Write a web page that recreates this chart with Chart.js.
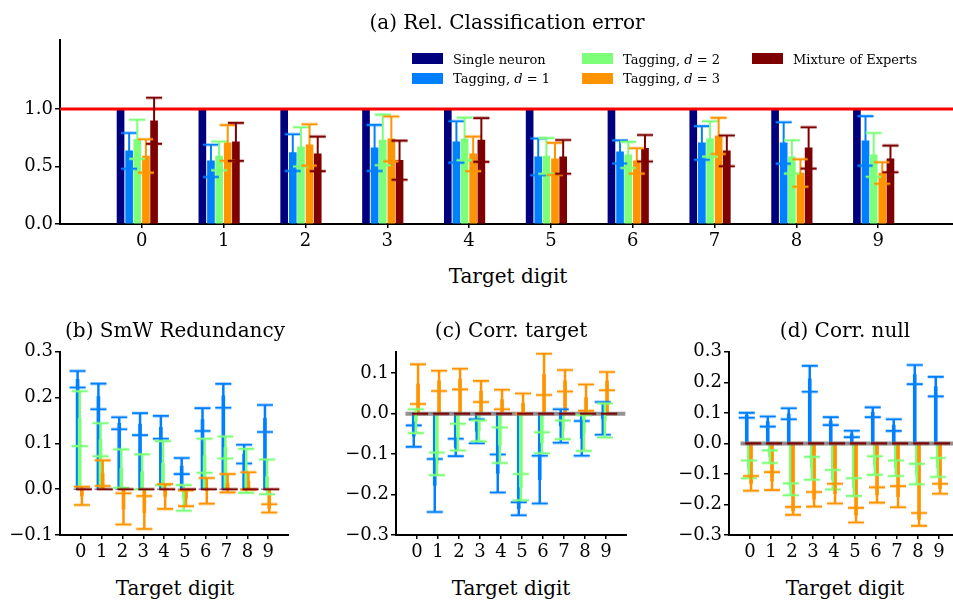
<!DOCTYPE html>
<html>
<head>
<meta charset="utf-8">
<script src="https://cdn.jsdelivr.net/npm/chart.js@4.4.1/dist/chart.umd.min.js"></script>
<style>
  html, body { margin: 0; padding: 0; background: #fff; }
  body { width: 953px; height: 606px; overflow: hidden; position: relative; font-family: 'DejaVu Serif', serif; color: #000; }
  .box { position: absolute; }
  .lbl { position: absolute; white-space: nowrap; transform: translate(-50%, -50%); font-size: 20px; line-height: 1; }
  .sw { position: absolute; width: 31px; height: 11px; }
  .lt { position: absolute; white-space: nowrap; font-size: 13px; line-height: 1; transform: translateY(-50%); }
</style>
</head>
<body>
<div class="box" id="boxA" style="left:0;top:27px;width:960px;height:229px"><canvas id="chartA"></canvas></div>
<div class="box" id="boxB" style="left:0;top:339px;width:289px;height:228px"><canvas id="chartB"></canvas></div>
<div class="box" id="boxC" style="left:336px;top:339px;width:291px;height:228px"><canvas id="chartC"></canvas></div>
<div class="box" id="boxD" style="left:669px;top:339px;width:291px;height:228px"><canvas id="chartD"></canvas></div>

<div class="lbl" style="left:507px;top:22px">(a) Rel. Classification error</div>
<div class="lbl" style="left:508px;top:276px">Target digit</div>
<div class="lbl" style="left:175px;top:330px">(b) SmW Redundancy</div>
<div class="lbl" style="left:511px;top:330px">(c) Corr. target</div>
<div class="lbl" style="left:845px;top:330px">(d) Corr. null</div>
<div class="lbl" style="left:175px;top:588px">Target digit</div>
<div class="lbl" style="left:511px;top:588px">Target digit</div>
<div class="lbl" style="left:845px;top:588px">Target digit</div>
<div id="legend"></div>

<script>
// categories
const digits = [0, 1, 2, 3, 4, 5, 6, 7, 8, 9];
const seriesNames = ['Single neuron', 'Tagging, d = 1', 'Tagging, d = 2', 'Tagging, d = 3', 'Mixture of Experts'];

// (a) relative classification error, mean and error
const relErrSingle = [1, 1, 1, 1, 1, 1, 1, 1, 1, 1];
const relErrTag1 = [0.635, 0.548, 0.62, 0.661, 0.713, 0.583, 0.626, 0.704, 0.704, 0.722];
const relErrTag1Err = [0.155, 0.14, 0.16, 0.2, 0.18, 0.16, 0.10, 0.146, 0.18, 0.215];
const relErrTag2 = [0.736, 0.591, 0.67, 0.73, 0.739, 0.591, 0.6, 0.739, 0.583, 0.6];
const relErrTag2Err = [0.17, 0.125, 0.17, 0.22, 0.185, 0.155, 0.113, 0.154, 0.145, 0.19];
const relErrTag3 = [0.591, 0.704, 0.687, 0.739, 0.609, 0.565, 0.548, 0.765, 0.443, 0.443];
const relErrTag3Err = [0.145, 0.155, 0.18, 0.195, 0.15, 0.14, 0.11, 0.157, 0.12, 0.094];
const relErrMoE = [0.896, 0.713, 0.609, 0.554, 0.73, 0.583, 0.658, 0.635, 0.661, 0.565];
const relErrMoEErr = [0.2, 0.165, 0.15, 0.17, 0.19, 0.146, 0.115, 0.134, 0.18, 0.116];
const refLevel = 1.0;

// (b) SmW redundancy
const zeros = [0, 0, 0, 0, 0, 0, 0, 0, 0, 0];
const redTag1 = [0.24, 0.2025, 0.144, 0.142, 0.135, 0.0505, 0.152, 0.204, 0.0765, 0.1545];
const redTag1Err = [0.018, 0.028, 0.013, 0.024, 0.025, 0.0175, 0.025, 0.026, 0.0205, 0.0295];
const redTag2 = [0.154, 0.108, 0.045, 0.038, 0.057, -0.019, 0.073, 0.091, 0.04, 0.027];
const redTag2Err = [0.06, 0.036, 0.042, 0.038, 0.048, 0.028, 0.037, 0.024, 0.048, 0.038];
const redTag3 = [-0.0145, 0.035, -0.043, -0.051, -0.016, -0.02, -0.0035, 0.013, 0.018, -0.042];
const redTag3Err = [0.02, 0.028, 0.034, 0.036, 0.027, 0.017, 0.028, 0.02, 0.019, 0.009];

// (c) correlation with target
const ctTag1 = [-0.0555, -0.1775, -0.0835, -0.0435, -0.148, -0.235, -0.163, -0.0305, -0.061, -0.0115];
const ctTag1Err = [0.0265, 0.0655, 0.0215, 0.0295, 0.047, 0.016, 0.059, 0.0415, 0.043, 0.0405];
const ctTag2 = [-0.0185, -0.124, -0.058, -0.0425, -0.078, -0.1815, -0.072, -0.04, -0.048, -0.017];
const ctTag2Err = [0.0295, 0.028, 0.033, 0.0255, 0.044, 0.0325, 0.026, 0.023, 0.044, 0.042];
const ctTag3 = [0.073, 0.081, 0.0855, 0.055, 0.035, 0.025, 0.097, 0.0815, 0.0395, 0.0805];
const ctTag3Err = [0.049, 0.025, 0.0255, 0.026, 0.024, 0.025, 0.051, 0.0265, 0.0325, 0.0225];

// (d) correlation with null
const cnTag1 = [0.092, 0.0715, 0.097, 0.2115, 0.073, 0.031, 0.102, 0.06, 0.2255, 0.186];
const cnTag1Err = [0.008, 0.0165, 0.018, 0.0425, 0.013, 0.0105, 0.016, 0.019, 0.0315, 0.032];
const cnTag2 = [-0.085, -0.0435, -0.1505, -0.0815, -0.119, -0.143, -0.0725, -0.0815, -0.1005, -0.079];
const cnTag2Err = [0.029, 0.0205, 0.0195, 0.0375, 0.032, 0.029, 0.0305, 0.0255, 0.0335, 0.031];
const cnTag3 = [-0.131, -0.1235, -0.221, -0.183, -0.1645, -0.235, -0.169, -0.1745, -0.249, -0.1485];
const cnTag3Err = [0.024, 0.0295, 0.013, 0.024, 0.0325, 0.024, 0.025, 0.0345, 0.021, 0.0165];

// tick labels
const ticksA = [0, 0.5, 1.0];
const ticksB = [-0.1, 0.0, 0.1, 0.2, 0.3];
const ticksC = [-0.3, -0.2, -0.1, 0.0, 0.1];
const ticksD = [-0.3, -0.2, -0.1, 0.0, 0.1, 0.2, 0.3];

// styling
const colors = ['#00007f', '#0080ff', '#7dff7a', '#ff9400', '#7f0000'];
const offsets = [-0.26, -0.155, -0.055, 0.05, 0.15];
const FONT = 'DejaVu Serif';

const fmt = v => (v < 0 ? '\u2212' : '') + Math.abs(v).toFixed(1);

const errorBars = {
  id: 'errorBars',
  afterDatasetsDraw(chart) {
    const o = chart.options.plugins.errorBars;
    const { ctx, scales: { x, y }, chartArea } = chart;
    ctx.save();
    if (o.band) {
      ctx.strokeStyle = o.band.color;
      ctx.lineWidth = o.band.width;
      ctx.beginPath();
      ctx.moveTo(x.getPixelForValue(o.band.from), y.getPixelForValue(o.band.value));
      ctx.lineTo(x.getPixelForValue(o.band.to), y.getPixelForValue(o.band.value));
      ctx.stroke();
    }
    if (o.hline) {
      ctx.strokeStyle = o.hline.color;
      ctx.lineWidth = o.hline.width;
      const py = y.getPixelForValue(o.hline.value);
      ctx.beginPath();
      ctx.moveTo(chartArea.left, py);
      ctx.lineTo(chartArea.right, py);
      ctx.stroke();
    }
    chart.data.datasets.forEach(ds => {
      if (!ds.errors) return;
      ds.data.forEach((pt, i) => {
        const px = x.getPixelForValue(pt.x);
        const yt = y.getPixelForValue(pt.y + ds.errors[i]);
        const yb = y.getPixelForValue(pt.y - ds.errors[i]);
        ctx.strokeStyle = ds.backgroundColor;
        ctx.lineWidth = o.lineWidth;
        ctx.beginPath();
        ctx.moveTo(px, yt);
        ctx.lineTo(px, yb);
        ctx.stroke();
        [[0.35, 3.5], [1, 1.6]].forEach(([a, w]) => {
          ctx.globalAlpha = a;
          ctx.lineWidth = w;
          ctx.beginPath();
          ctx.moveTo(px - o.cap, yt); ctx.lineTo(px + o.cap, yt);
          ctx.moveTo(px - o.cap, yb); ctx.lineTo(px + o.cap, yb);
          ctx.stroke();
        });
        ctx.globalAlpha = 1;
      });
    });
    ctx.restore();
  }
};

function panel(id, cfg) {
  const datasets = cfg.series.map((s, k) => ({
    label: seriesNames[k],
    data: digits.map((d, i) => ({ x: d + offsets[k], y: s[0][i] })),
    errors: s[1],
    backgroundColor: colors[k],
    borderWidth: 0,
    barThickness: cfg.barWidth,
    order: 5 - k
  }));
  return new Chart(document.getElementById(id), {
    type: 'bar',
    data: { datasets },
    plugins: [errorBars],
    options: {
      responsive: true,
      maintainAspectRatio: false,
      animation: false,
      layout: { padding: { top: 12, left: 0, right: 0, bottom: 0 } },
      datasets: { bar: { grouped: false } },
      plugins: {
        legend: { display: false },
        tooltip: { enabled: false },
        errorBars: { lineWidth: cfg.errWidth, cap: 8, hline: cfg.hline, band: cfg.band }
      },
      scales: {
        x: {
          type: 'linear', min: -1, max: 10, offset: false,
          afterBuildTicks: ax => { ax.ticks = digits.map(v => ({ value: v })); },
          afterFit: ax => { ax.height = 32; },
          ticks: { font: { family: FONT, size: 18 }, color: '#000', padding: 3, autoSkip: false, maxRotation: 0, callback: v => String(v) },
          grid: { display: true, drawOnChartArea: false, drawTicks: true, tickLength: 4, color: '#000', lineWidth: 1.5, offset: false },
          border: { display: true, color: '#000', width: 2 }
        },
        y: {
          min: cfg.yMin, max: cfg.yMax,
          afterBuildTicks: ax => { ax.ticks = cfg.yTicks.map(v => ({ value: v })); },
          afterFit: ax => { ax.width = 60; },
          ticks: { font: { family: FONT, size: 18 }, color: '#000', padding: 2, autoSkip: false, callback: v => fmt(v) },
          grid: { display: true, drawOnChartArea: false, drawTicks: true, tickLength: 5, color: '#000', lineWidth: 1.5 },
          border: { display: true, color: '#000', width: 2 }
        }
      }
    }
  });
}

panel('chartA', {
  series: [[relErrSingle, null], [relErrTag1, relErrTag1Err], [relErrTag2, relErrTag2Err], [relErrTag3, relErrTag3Err], [relErrMoE, relErrMoEErr]],
  barWidth: 7, errWidth: 2, yMin: 0, yMax: 1.6, yTicks: ticksA,
  hline: { value: refLevel, color: '#ff0000', width: 3 }
});
panel('chartB', {
  series: [[zeros, null], [redTag1, redTag1Err], [redTag2, redTag2Err], [redTag3, redTag3Err], [zeros, zeros]],
  barWidth: 3, errWidth: 2.5, yMin: -0.1, yMax: 0.3, yTicks: ticksB
});
panel('chartC', {
  series: [[zeros, null], [ctTag1, ctTag1Err], [ctTag2, ctTag2Err], [ctTag3, ctTag3Err], [zeros, zeros]],
  barWidth: 3, errWidth: 2.5, yMin: -0.3, yMax: 0.153, yTicks: ticksC,
  band: { value: 0, from: -0.55, to: 9.92, color: 'rgba(128,128,128,0.85)', width: 4 }
});
panel('chartD', {
  series: [[zeros, null], [cnTag1, cnTag1Err], [cnTag2, cnTag2Err], [cnTag3, cnTag3Err], [zeros, zeros]],
  barWidth: 3, errWidth: 2.5, yMin: -0.3, yMax: 0.3, yTicks: ticksD,
  band: { value: 0, from: -0.45, to: 9.92, color: 'rgba(128,128,128,0.85)', width: 4 }
});

// legend, column-major: 2 rows, 3 columns
const legend = document.getElementById('legend');
seriesNames.forEach((name, k) => {
  const col = Math.floor(k / 2), row = k % 2;
  const left = 412 + col * 170, top = 53 + row * 19.5;
  const sw = document.createElement('div');
  sw.className = 'sw';
  sw.style.cssText = `left:${left}px;top:${top}px;background:${colors[k]}`;
  const tx = document.createElement('div');
  tx.className = 'lt';
  tx.style.cssText = `left:${left + 41}px;top:${top + 5.5}px`;
  tx.innerHTML = name.replace(', d =', ', <i>d</i> =');
  legend.appendChild(sw);
  legend.appendChild(tx);
});
</script>
</body>
</html>
